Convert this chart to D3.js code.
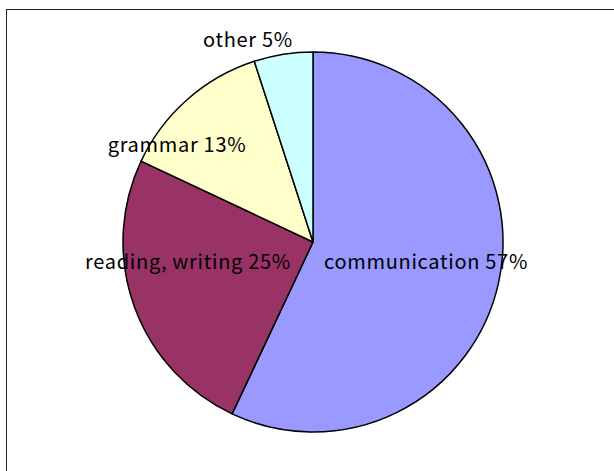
<!DOCTYPE html>
<html>
<head>
<meta charset="utf-8">
<script src="https://cdn.jsdelivr.net/npm/d3@7"></script>
<style>
	body { margin: 0; background: #fff; }
</style>
</head>
<body>
<div id="chart"></div>
<script>
// pie data
var categories = ["communication", "reading, writing", "grammar", "other"];
var values = [57, 25, 13, 5];
var colours = ["#9999FF", "#993366", "#FFFFCC", "#CCFFFF"];

var w = 614,
	h = 471,
	cx = 313,
	cy = 242,
	radius = 190;

// where Excel put each label (centre x, baseline y)
var labelPos = {
	"communication": [426, 269],
	"reading, writing": [188, 269],
	"grammar": [177, 152],
	"other": [248, 47]
};

var svg = d3.select("#chart")
	.append("svg")
	.attr("width", w)
	.attr("height", h);

svg.append("rect")
	.attr("x", 6.5)
	.attr("y", 9.5)
	.attr("width", w)
	.attr("height", h)
	.attr("fill", "none")
	.attr("stroke", "#222")
	.attr("stroke-width", 1);

var data = categories.map(function(c, i) {
	return {name: c, value: values[i], colour: colours[i]};
});

var pie = d3.pie()
	.sort(null)
	.value(function(d) {return d.value;});

var arc = d3.arc()
	.innerRadius(0)
	.outerRadius(radius);

var g = svg.append("g")
	.attr("transform", "translate(" + cx + "," + cy + ")");

g.selectAll("path")
	.data(pie(data))
	.enter().append("path")
	.attr("d", arc)
	.attr("fill", function(d) {return d.data.colour;})
	.attr("stroke", "#000")
	.attr("stroke-width", 1.5)
	.attr("stroke-linejoin", "round");

svg.selectAll("text.label")
	.data(data)
	.enter().append("text")
	.attr("class", "label")
	.attr("x", function(d) {return labelPos[d.name][0];})
	.attr("y", function(d) {return labelPos[d.name][1];})
	.attr("text-anchor", "middle")
	.attr("font-family", "'Noto Sans CJK JP', sans-serif")
	.attr("font-size", "20px")
	.attr("letter-spacing", "0.7px")
	.attr("fill", "#000")
	.text(function(d) {return d.name + " " + d.value + "%";});
</script>
</body>
</html>
